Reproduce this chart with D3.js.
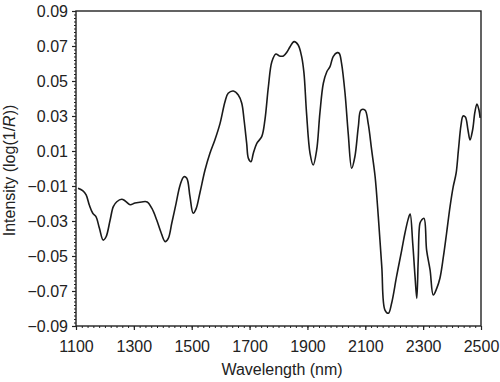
<!DOCTYPE html>
<html><head><meta charset="utf-8">
<script src="https://cdn.jsdelivr.net/npm/d3@7"></script>
<style>
html,body{margin:0;padding:0;background:#fff;}
text{font-family:"Liberation Sans",Arial,Helvetica,sans-serif;fill:#222;}
</style></head>
<body><svg id="c" width="500" height="382"></svg>
<script>
const wavelength = [1107,1123,1135,1146,1158,1169,1181,1194,1204,1218,1229,1241,1258,1269,1287,1304,1327,1346,1362,1379,1393,1408,1419,1431,1446,1460,1473,1483,1494,1505,1515,1529,1546,1563,1580,1598,1615,1626,1644,1661,1673,1681,1690,1696,1705,1713,1725,1742,1753,1765,1777,1791,1803,1817,1830,1840,1854,1868,1880,1888,1897,1909,1920,1932,1943,1955,1967,1978,1989,2003,2010,2018,2030,2041,2053,2064,2076,2085,2099,2110,2122,2134,2145,2157,2168,2180,2191,2208,2226,2237,2249,2255,2264,2272,2278,2283,2289,2295,2303,2312,2324,2335,2347,2358,2370,2381,2393,2404,2414,2422,2431,2438,2446,2455,2462,2471,2479,2486,2493,2497];
const intensity = [-0.0113,-0.0127,-0.0151,-0.0209,-0.0256,-0.0275,-0.0342,-0.0409,-0.0390,-0.0294,-0.0218,-0.0190,-0.0176,-0.0184,-0.0207,-0.0197,-0.0191,-0.0191,-0.0227,-0.0294,-0.0361,-0.0418,-0.0399,-0.0313,-0.0199,-0.0094,-0.0047,-0.0056,-0.0161,-0.0256,-0.0231,-0.0134,-0.0009,0.0087,0.0163,0.0258,0.0382,0.0430,0.0443,0.0420,0.0373,0.0277,0.0144,0.0058,0.0039,0.0087,0.0144,0.0182,0.0277,0.0467,0.0610,0.0654,0.0643,0.0643,0.0667,0.0696,0.0725,0.0706,0.0639,0.0546,0.0315,0.0087,0.0020,0.0106,0.0315,0.0487,0.0553,0.0582,0.0639,0.0662,0.0658,0.0601,0.0430,0.0201,0.0001,0.0067,0.0239,0.0334,0.0334,0.0258,0.0106,-0.0047,-0.0275,-0.0561,-0.0809,-0.0827,-0.0770,-0.0618,-0.0466,-0.0370,-0.0285,-0.0260,-0.0427,-0.0618,-0.0742,-0.0523,-0.0313,-0.0294,-0.0285,-0.0466,-0.0580,-0.0723,-0.0685,-0.0627,-0.0504,-0.0370,-0.0218,-0.0104,-0.0027,0.0106,0.0249,0.0300,0.0294,0.0220,0.0163,0.0220,0.0323,0.0369,0.0334,0.0289];
const xTicks = [1100,1300,1500,1700,1900,2100,2300,2500];
const yTicks = [-0.09,-0.07,-0.05,-0.03,-0.01,0.01,0.03,0.05,0.07,0.09];
const xMinor = d3.range(1100, 2501, 20);
const yMinor = d3.range(-90, 91, 2).map(v => v / 1000);

const L = 76, R = 481, T = 11, B = 326;
const svg = d3.select("#c");
const x = d3.scaleLinear().domain([1100, 2500]).range([L, R]);
const y = d3.scaleLinear().domain([-0.09, 0.09]).range([B, T]);

const fmt = v => (v < 0 ? "\u2212" : "") + Math.abs(v).toFixed(2);

// minor ticks
svg.append("g").attr("transform", `translate(0,${B})`)
  .call(d3.axisBottom(x).tickValues(xMinor).tickSize(2).tickFormat(""))
  .call(g => g.select(".domain").remove())
  .call(g => g.selectAll("line").attr("stroke", "#222").attr("stroke-width", 1));
svg.append("g").attr("transform", `translate(${L},0)`)
  .call(d3.axisLeft(y).tickValues(yMinor).tickSize(2).tickFormat(""))
  .call(g => g.select(".domain").remove())
  .call(g => g.selectAll("line").attr("stroke", "#222").attr("stroke-width", 1));

// major axes
const xa = svg.append("g").attr("transform", `translate(0,${B})`)
  .call(d3.axisBottom(x).tickValues(xTicks).tickSize(4).tickPadding(11).tickFormat(d3.format("d")));
const ya = svg.append("g").attr("transform", `translate(${L},0)`)
  .call(d3.axisLeft(y).tickValues(yTicks).tickSize(4).tickPadding(4).tickFormat(fmt));
[xa, ya].forEach(g => {
  g.select(".domain").remove();
  g.selectAll("line").attr("stroke", "#222").attr("stroke-width", 1.2);
  g.selectAll("text").attr("font-size", 16).attr("fill", "#222")
    .attr("font-family", "'Liberation Sans',Arial,sans-serif");
});

// frame
svg.append("rect").attr("x", L).attr("y", T).attr("width", R - L).attr("height", B - T)
  .attr("fill", "none").attr("stroke", "#222").attr("stroke-width", 1.4);

// curve
const data = wavelength.map((w, i) => [w, intensity[i]]);
svg.append("path").datum(data)
  .attr("fill", "none").attr("stroke", "#1a1a1a").attr("stroke-width", 1.6)
  .attr("stroke-linejoin", "round")
  .attr("d", d3.line().x(d => x(d[0])).y(d => y(d[1])).curve(d3.curveCatmullRom.alpha(0.5)));

// titles
svg.append("text").attr("x", 282).attr("y", 375).attr("text-anchor", "middle")
  .attr("font-size", 16).text("Wavelength (nm)");
const yt = svg.append("text").attr("transform", `translate(15,${(T + B) / 2 + 2}) rotate(-90)`)
  .attr("text-anchor", "middle").attr("font-size", 16);
yt.append("tspan").text("Intensity (log(1/");
yt.append("tspan").attr("font-style", "italic").text("R");
yt.append("tspan").text("))");
</script></body></html>
